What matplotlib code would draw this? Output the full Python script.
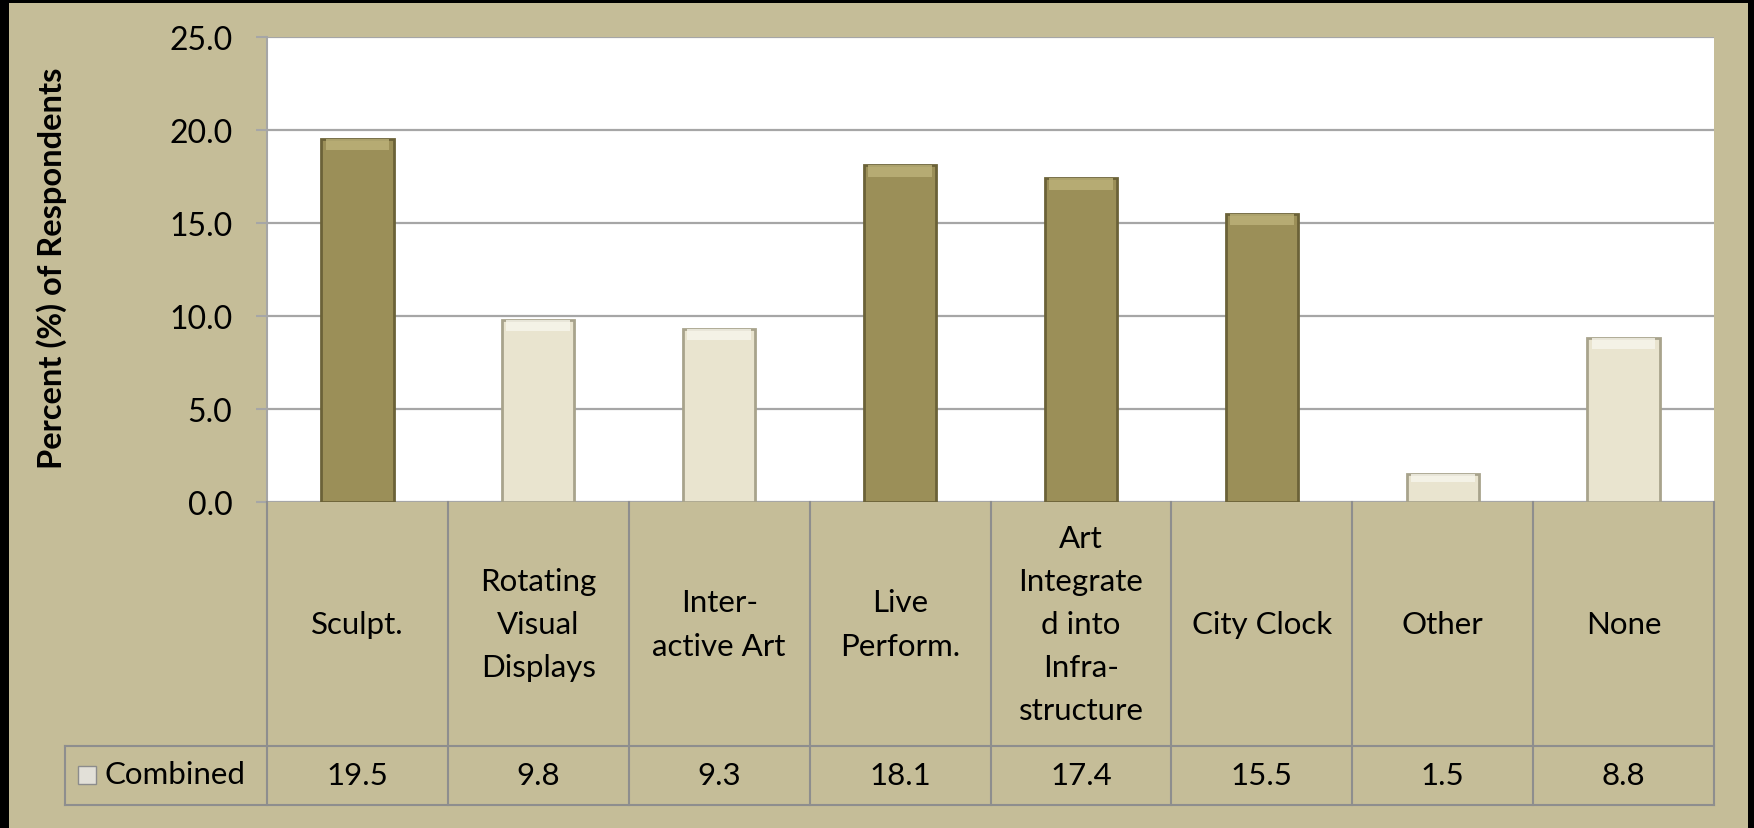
import matplotlib
matplotlib.use("Agg")
import matplotlib.pyplot as plt
from matplotlib.patches import Rectangle
import numpy as np

plt.rcParams['font.family'] = ['Lato', 'DejaVu Sans']

categories = ["Sculpt.", "Rotating\nVisual\nDisplays", "Inter-\nactive Art", "Live\nPerform.",
              "Art\nIntegrate\nd into\nInfra-\nstructure", "City Clock", "Other", "None"]
values = [19.5, 9.8, 9.3, 18.1, 17.4, 15.5, 1.5, 8.8]
value_labels = ["19.5", "9.8", "9.3", "18.1", "17.4", "15.5", "1.5", "8.8"]
dark_flags = [True, False, False, True, True, True, False, False]
series_name = "Combined"
yticks = [0, 5, 10, 15, 20, 25]
ylabel = "Percent (%) of Respondents"

W, H = 1754, 829
DPI = 100
BG = "#C5BD98"
DARK = "#9B8F58"
DARK_EDGE = "#6B6238"
DARK_HI = "#BDB37A"
LIGHT = "#E9E4CF"
LIGHT_EDGE = "#A8A38C"
LIGHT_HI = "#F8F6EC"
GRID = "#A6A6A6"
TBL = "#8E8E8E"

fig = plt.figure(figsize=(W / DPI, H / DPI), dpi=DPI, facecolor="black")
fig.patches.append(Rectangle((9 / W, 0), (1748 - 9) / W, (H - 4) / H,
                             transform=fig.transFigure, facecolor=BG, edgecolor="none", zorder=-10))

# pixel layout
pl, pr, pt, pb = 267, 1714, 38, 503
tb_bottom = 806
row_split = 747
leg_left = 65

ax = fig.add_axes([pl / W, 1 - pb / H, (pr - pl) / W, (pb - pt) / H])
ax.set_facecolor("white")
x = np.arange(len(categories))
ax.set_xlim(-0.5, len(categories) - 0.5)
ax.set_ylim(0, 25)
ax.set_yticks(yticks)
ax.set_yticklabels([f"{t:.1f}" for t in yticks], fontsize=23)
ax.tick_params(axis='y', length=8, width=1.5, color=GRID, pad=17)
ax.set_xticks([])
ax.yaxis.grid(True, color=GRID, lw=1.6)
ax.set_axisbelow(True)
for s in ["top", "right", "bottom"]:
    ax.spines[s].set_visible(False)
ax.spines["left"].set_color(GRID)
ax.spines["left"].set_linewidth(1.5)

bw = 0.4
cols = [DARK if d else LIGHT for d in dark_flags]
edges = [DARK_EDGE if d else LIGHT_EDGE for d in dark_flags]
his = [DARK_HI if d else LIGHT_HI for d in dark_flags]
ax.bar(x, values, width=bw, color=cols, edgecolor=edges, linewidth=2, zorder=3)
# bevel highlights (top) derived from values
hband = 0.6
ax.bar(x, [min(hband, v * 0.3) for v in values], bottom=[v - min(hband, v * 0.3) for v in values],
       width=bw * 0.88, color=his, edgecolor="none", zorder=4, alpha=0.8)

fig.text(52 / W, 1 - 268 / H, ylabel, rotation=90, fontsize=23.5, fontweight="bold",
         ha="center", va="center")

# table axes
tax = fig.add_axes([pl / W, 1 - tb_bottom / H, (pr - pl) / W, (tb_bottom - pb) / H])
tax.set_xlim(-0.5, len(categories) - 0.5)
tax.set_ylim(tb_bottom - pb, 0)
tax.axis("off")
colw = (pr - pl) / len(categories)
leg_x = -0.5 - (pl - leg_left) / colw
ysplit = row_split - pb
yend = tb_bottom - pb
kw = dict(color=TBL, lw=1.5, clip_on=False)
for i in range(len(categories) + 1):
    tax.plot([i - 0.5, i - 0.5], [0, yend], **kw)
tax.plot([leg_x, leg_x], [ysplit, yend], **kw)
tax.plot([leg_x, len(categories) - 0.5], [ysplit, ysplit], **kw)
tax.plot([leg_x, len(categories) - 0.5], [yend, yend], **kw)
for i, (c, v) in enumerate(zip(categories, value_labels)):
    tax.text(i, ysplit / 2, c, ha="center", va="center", fontsize=22.5, linespacing=1.66,
             multialignment="center")
    tax.text(i, (ysplit + yend) / 2, v, ha="center", va="center", fontsize=22.5)
# legend key
tax.plot([leg_x + 0.12], [(ysplit + yend) / 2 - 1], marker="s", markersize=13,
         markerfacecolor="#E2E0D8", markeredgecolor="#8C8C8C", clip_on=False)
tax.text(leg_x + 0.22, (ysplit + yend) / 2 - 1, series_name, ha="left", va="center", fontsize=22.5)

fig.savefig("out.png", dpi=DPI, facecolor="black")
